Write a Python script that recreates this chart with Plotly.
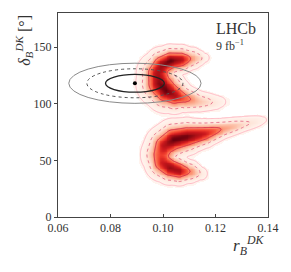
import numpy as np
import plotly.graph_objects as go

# ---- data ----
# ridge line of the two crescent-shaped likelihood regions:
# position (r_B, delta_B), relative height, and local width (in screen pixels)
upper_r = [0.1160, 0.1112, 0.1069, 0.1028, 0.0995, 0.0979, 0.0986, 0.1010, 0.1043, 0.1083, 0.1138, 0.1201, 0.1240]
upper_d = [140.5, 140.0, 139.0, 138.0, 134.0, 126.8, 118.0, 111.8, 107.5, 104.7, 102.0, 101.2, 102.0]
upper_w = [0.03, 0.32, 0.82, 1.00, 0.90, 0.85, 0.95, 1.00, 0.85, 0.52, 0.22, 0.07, 0.01]
upper_s = [3.2, 4.4, 5.2, 5.6, 6.4, 7.6, 8.3, 7.8, 6.6, 5.2, 4.4, 3.8, 3.2]

lower_r = [0.1383, 0.1306, 0.1230, 0.1157, 0.1091, 0.1039, 0.1005, 0.0992, 0.0998, 0.1025, 0.1061, 0.1102, 0.1146]
lower_d = [85.6, 82.0, 78.1, 73.7, 71.1, 68.4, 63.1, 55.1, 48.1, 43.6, 41.0, 40.1, 38.3]
lower_w = [0.02, 0.14, 0.35, 0.75, 0.97, 1.00, 0.82, 0.62, 0.75, 0.90, 0.85, 0.40, 0.06]
lower_s = [3.0, 3.4, 4.0, 5.2, 6.5, 7.2, 7.3, 7.6, 6.8, 6.0, 5.3, 4.5, 3.5]

levels = [0.40, 0.10, 0.012]   # 1, 2, 3 sigma contour levels (relative)

# ellipses (other measurement): centre and half-axes at 1, 2, 3 sigma
ell_r0, ell_d0 = 0.0893, 118.0
ell_hr = [0.0112, 0.0183, 0.0252]
ell_hd = [7.8, 12.8, 17.7]

x_ticks = [0.06, 0.08, 0.10, 0.12, 0.14]
y_ticks = [0, 50, 100, 150]

# ---- density grid ----
PX_R = 2731.0   # screen pixels per unit r_B
PX_D = 1.13     # screen pixels per degree
gx = np.linspace(0.06, 0.14, 241)
gy = np.linspace(0, 180, 241)
X, Y = np.meshgrid(gx, gy)
U, V = X * PX_R, Y * PX_D


def ridge(rs, ds, ws, ss):
    out = np.zeros_like(X)
    pu, pv = np.array(rs) * PX_R, np.array(ds) * PX_D
    for i in range(len(rs) - 1):
        au, av, bu, bv = pu[i], pv[i], pu[i + 1], pv[i + 1]
        du, dv = bu - au, bv - av
        t = np.clip(((U - au) * du + (V - av) * dv) / (du * du + dv * dv), 0, 1)
        d2 = (U - au - t * du) ** 2 + (V - av - t * dv) ** 2
        w = ws[i] + t * (ws[i + 1] - ws[i])
        s = ss[i] + t * (ss[i + 1] - ss[i])
        out = np.maximum(out, w * np.exp(-0.5 * d2 / s ** 2))
    return out


Z = np.maximum(ridge(upper_r, upper_d, upper_w, upper_s), ridge(lower_r, lower_d, lower_w, lower_s))
Z = Z / Z.max()
Zh = np.where(Z < 0.004, np.nan, Z)

reds = [[0.0, '#fff5f0'], [0.125, '#fee0d2'], [0.25, '#fcbba1'], [0.375, '#fc9272'],
        [0.5, '#fb6a4a'], [0.625, '#ef3b2c'], [0.75, '#cb181d'], [0.875, '#a50f15'], [1.0, '#67000d']]

fig = go.Figure()
fig.add_trace(go.Heatmap(x=gx, y=gy, z=Zh, colorscale=reds, zmin=0, zmax=1,
                         showscale=False, hoverinfo='skip', zsmooth='best'))

cstyles = [('#d6304a', 'solid', 1.0), ('#e8708a', 'dot', 1.0), ('#ffb8c4', 'solid', 1.0)]
for lev, (col, dash, wdt) in zip(levels, cstyles):
    fig.add_trace(go.Contour(x=gx, y=gy, z=Z, showscale=False, hoverinfo='skip',
                             contours=dict(start=lev, end=lev, size=1, coloring='none'),
                             line=dict(color=col, dash=dash, width=wdt)))

estyles = [('#222222', 'solid', 1.3), ('#555555', 'dot', 1.0), ('#8a8a8a', 'solid', 1.0)]
for hr, hd, (col, dash, wdt) in zip(ell_hr, ell_hd, estyles):
    fig.add_shape(type='circle', xref='x', yref='y',
                  x0=ell_r0 - hr, x1=ell_r0 + hr, y0=ell_d0 - hd, y1=ell_d0 + hd,
                  line=dict(color=col, dash=dash, width=wdt), layer='above')

fig.add_trace(go.Scatter(x=[ell_r0], y=[ell_d0], mode='markers',
                         marker=dict(color='black', size=4), hoverinfo='skip'))

font = 'Liberation Serif, Times New Roman, serif'
fig.update_layout(
    width=291, height=272, margin=dict(l=58, r=15, t=13, b=55),
    plot_bgcolor='white', paper_bgcolor='white', showlegend=False,
    font=dict(family=font, size=12, color='#333'),
    xaxis=dict(range=[0.06, 0.14], tickvals=x_ticks, ticktext=[f'{v:.2f}' for v in x_ticks],
               showgrid=False, zeroline=False, showline=True, mirror=True, linecolor='#444',
               linewidth=1, ticks='inside', ticklen=3, tickcolor='#444'),
    yaxis=dict(range=[0, 180], tickvals=y_ticks, showgrid=False, zeroline=False,
               showline=True, mirror=True, linecolor='#444', linewidth=1,
               ticks='outside', ticklen=3, tickcolor='#444'),
    annotations=[
        dict(text='<i>δ</i><sub><i>B</i></sub><sup><i>DK</i></sup> [°]', xref='paper', yref='paper',
             x=-0.165, y=1.0, xanchor='center', yanchor='top', textangle=-90, showarrow=False,
             font=dict(family=font, size=16, color='#333')),
        dict(text='<i>r</i><sub><i>B</i></sub><sup><i>DK</i></sup>', xref='paper', yref='paper',
             x=0.99, y=-0.07, xanchor='right', yanchor='top', showarrow=False,
             font=dict(family=font, size=17, color='#333')),
        dict(text='LHCb', xref='paper', yref='paper', x=0.745, y=0.925, xanchor='left',
             yanchor='middle', showarrow=False, font=dict(family=font, size=16, color='#333')),
        dict(text='9 fb<sup>−1</sup>', xref='paper', yref='paper', x=0.745, y=0.84, xanchor='left',
             yanchor='middle', showarrow=False, font=dict(family=font, size=12, color='#333')),
    ],
)
fig.write_html('out.html', config={'displayModeBar': False},
               post_script="document.body.style.margin='0px';")
